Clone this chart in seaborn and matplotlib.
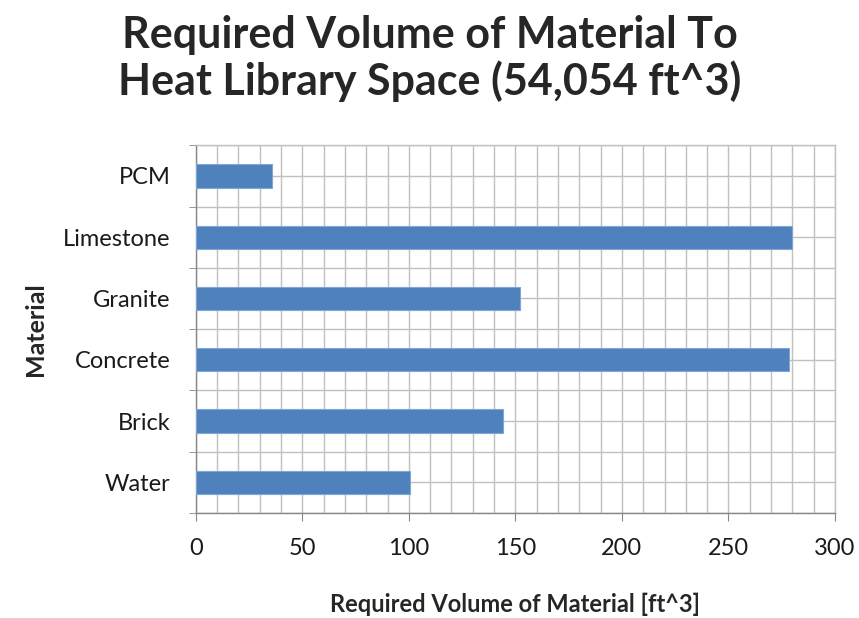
import numpy as np
import pandas as pd
import matplotlib
matplotlib.use("Agg")
import matplotlib.pyplot as plt
import seaborn as sns

# data
materials = ["PCM", "Limestone", "Granite", "Concrete", "Brick", "Water"]
volumes = [35.8, 280.0, 152.1, 278.5, 144.1, 100.7]

df = pd.DataFrame({"Material": materials, "Volume": volumes})

sns.set_style("white")
plt.rcParams['font.family'] = ['Lato', 'DejaVu Sans']

fig = plt.figure(figsize=(8.59, 6.18), dpi=100)
ax = fig.add_axes([0.228, 0.170, 0.744, 0.595])

sns.barplot(data=df, x="Volume", y="Material", order=materials, orient="h",
            color="#4F81BD", saturation=1, width=0.38,
            edgecolor="#7EA6D6", linewidth=0.8, ax=ax, zorder=3)

# axes / grid
ax.set_xlim(0, 300)
ax.set_ylim(5.5, -0.5)
ax.set_xticks(np.arange(0, 301, 50))
ax.set_xticks(np.arange(0, 301, 10), minor=True)
ax.set_yticks(np.arange(len(materials)))
ax.set_yticks(np.arange(-0.5, len(materials), 1), minor=True)
ax.grid(True, which="both", color="#c0c0c0", linewidth=1.0, zorder=0)
ax.set_axisbelow(True)

ax.tick_params(axis="x", which="major", length=6, color="#868686",
               labelsize=17, pad=12, labelcolor="#1a1a1a")
ax.tick_params(axis="x", which="minor", length=0)
ax.tick_params(axis="y", which="major", length=0, labelsize=17, pad=18,
               labelcolor="#1a1a1a")
ax.tick_params(axis="y", which="minor", length=5, color="#868686", left=True)
ax.tick_params(axis="x", bottom=True)

for s in ["left", "bottom"]:
    ax.spines[s].set_color("#868686")
    ax.spines[s].set_linewidth(1.0)
for s in ["top", "right"]:
    ax.spines[s].set_color("#c0c0c0")
    ax.spines[s].set_linewidth(1.0)

ax.set_xlabel("Required Volume of Material [ft^3]", fontsize=17,
              fontweight="bold", labelpad=24)
ax.set_ylabel("Material", fontsize=18, fontweight="bold", labelpad=12)

fig.suptitle("Required Volume of Material To\nHeat Library Space (54,054 ft^3)",
             x=0.5, y=0.975, fontsize=31, fontweight="bold", linespacing=1.15)

plt.savefig("out.png", dpi=100)
